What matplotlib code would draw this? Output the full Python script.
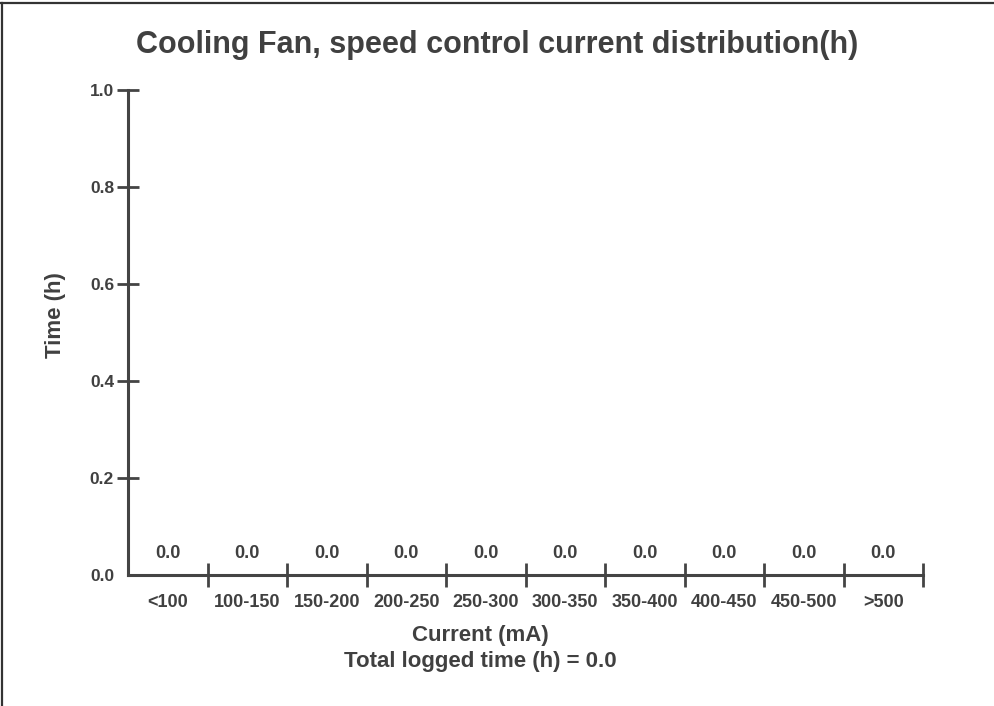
import matplotlib.pyplot as plt
from matplotlib.lines import Line2D
import numpy as np

# Chart data
categories = ['<100', '100-150', '150-200', '200-250', '250-300',
              '300-350', '350-400', '400-450', '450-500', '>500']
hours = [0.0, 0.0, 0.0, 0.0, 0.0, 0.0, 0.0, 0.0, 0.0, 0.0]
y_ticks = [0.0, 0.2, 0.4, 0.6, 0.8, 1.0]
total_hours = sum(hours)

txt = '#404040'
plt.rcParams['font.family'] = ['Liberation Sans', 'DejaVu Sans']
plt.rcParams['font.weight'] = 'bold'

fig = plt.figure(figsize=(9.95, 7.06), dpi=100)
ax = fig.add_axes([128 / 995, 131 / 706, 795 / 995, 485 / 706])

x = np.arange(len(categories))
bars = ax.bar(x, hours, width=0.8, color='#4472c4')
ax.bar_label(bars, labels=[f'{v:.1f}' for v in hours], padding=9,
             fontsize=13, fontweight='bold', color=txt)

ax.set_xlim(-0.5, len(categories) - 0.5)
ax.set_ylim(0, 1.0)

for s in ['top', 'right']:
    ax.spines[s].set_visible(False)
for s in ['left', 'bottom']:
    ax.spines[s].set_linewidth(2.2)
    ax.spines[s].set_color('#444444')

# category labels centred, tick marks on the bin edges
ax.set_xticks(x)
ax.set_xticklabels(categories, fontsize=13, fontweight='bold', color=txt)
ax.tick_params(axis='x', which='major', length=0, pad=14)
ax.set_xticks(np.arange(0.5, len(categories)), minor=True)
ax.tick_params(axis='x', which='minor', direction='inout', length=17,
               width=2, color='#444444')

ax.set_yticks(y_ticks)
ax.set_yticklabels([f'{v:.1f}' for v in y_ticks], fontsize=12.5,
                   fontweight='bold', color=txt)
ax.tick_params(axis='y', direction='inout', length=16, width=2,
               color='#444444', pad=2)
ax.yaxis.get_major_ticks()[0].tick1line.set_visible(False)

fig.text(0.5, 1 - 45 / 706, 'Cooling Fan, speed control current distribution(h)',
         ha='center', va='center', fontsize=22, fontweight='bold', color=txt)
fig.text(55 / 995, 1 - 315 / 706, 'Time (h)', rotation=90, ha='center',
         va='center', fontsize=16, fontweight='bold', color=txt)
fig.text(480 / 995, 1 - 635 / 706, 'Current (mA)', ha='center', va='center',
         fontsize=16, fontweight='bold', color=txt)
fig.text(480 / 995, 1 - 661 / 706, f'Total logged time (h) = {total_hours:.1f}',
         ha='center', va='center', fontsize=16, fontweight='bold', color=txt)

# page frame on top and left
fig.add_artist(Line2D([0, 1], [1 - 3 / 706, 1 - 3 / 706], color='#333333', lw=1.6))
fig.add_artist(Line2D([2 / 995, 2 / 995], [0, 1 - 3 / 706], color='#333333', lw=1.6))

fig.savefig('out.png', dpi=100)
